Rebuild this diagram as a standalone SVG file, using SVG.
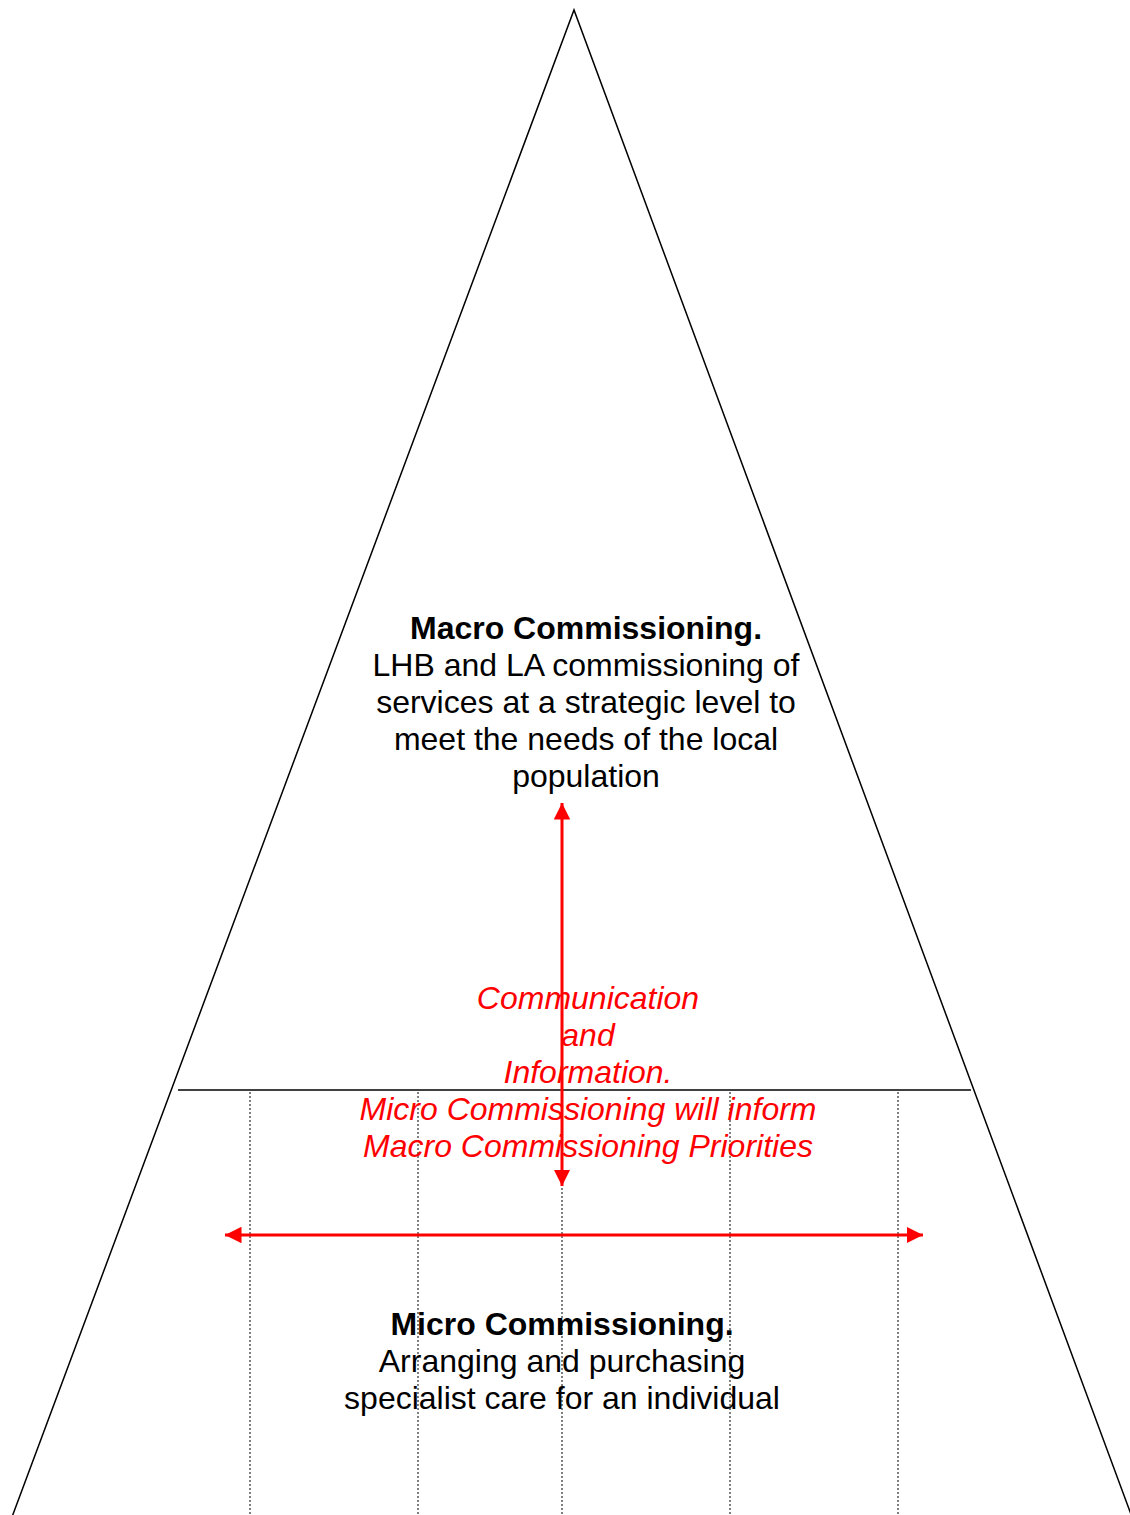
<svg xmlns="http://www.w3.org/2000/svg" width="1130" height="1515" viewBox="0 0 1130 1515">
<style>
.t{font-family:"Liberation Sans",Arial,sans-serif;font-size:32px;text-anchor:middle;fill:#000}
.b{font-weight:bold}
.r{fill:#ff0000;font-style:italic}
.dot{stroke:#000;stroke-width:1;stroke-dasharray:2,2;fill:none}
.red{stroke:#ff0000;stroke-width:3;fill:none}
</style>
<defs>
<marker id="ah" viewBox="0 0 10 10" refX="10" refY="5" markerWidth="5.5" markerHeight="5.5" markerUnits="strokeWidth" orient="auto-start-reverse">
<path d="M0,0 L10,5 L0,10 Z" fill="#ff0000"/>
</marker>
</defs>
<rect width="1130" height="1515" fill="#fff"/>
<g id="pyramid">
<polyline points="12,1517 574,10 1132,1517" fill="none" stroke="#000" stroke-width="1.5"/>
<line x1="178" y1="1090" x2="971" y2="1090" stroke="#000" stroke-width="1.5"/>
</g>
<g id="dividers">
<line class="dot" x1="250" y1="1092" x2="250" y2="1515"/>
<line class="dot" x1="418" y1="1092" x2="418" y2="1515"/>
<line class="dot" x1="562" y1="1092" x2="562" y2="1515"/>
<line class="dot" x1="730" y1="1092" x2="730" y2="1515"/>
<line class="dot" x1="898" y1="1092" x2="898" y2="1515"/>
</g>
<g id="macro">
<text class="t b" x="586" y="639">Macro Commissioning.</text>
<text class="t" x="586" y="676">LHB and LA commissioning of</text>
<text class="t" x="586" y="713">services at a strategic level to</text>
<text class="t" x="586" y="750">meet the needs of the local</text>
<text class="t" x="586" y="787">population</text>
</g>
<g id="connectors">
<line class="red" x1="562" y1="803" x2="562" y2="1186" marker-start="url(#ah)" marker-end="url(#ah)"/>
<line class="red" x1="225" y1="1235" x2="923" y2="1235" marker-start="url(#ah)" marker-end="url(#ah)"/>
</g>
<g id="communication">
<text class="t r" x="588" y="1009">Communication</text>
<text class="t r" x="588" y="1046">and</text>
<text class="t r" x="588" y="1083">Information.</text>
<text class="t r" x="588" y="1120">Micro Commissioning will inform</text>
<text class="t r" x="588" y="1157">Macro Commissioning Priorities</text>
</g>
<g id="micro">
<text class="t b" x="562" y="1335">Micro Commissioning.</text>
<text class="t" x="562" y="1372">Arranging and purchasing</text>
<text class="t" x="562" y="1409">specialist care for an individual</text>
</g>
</svg>
